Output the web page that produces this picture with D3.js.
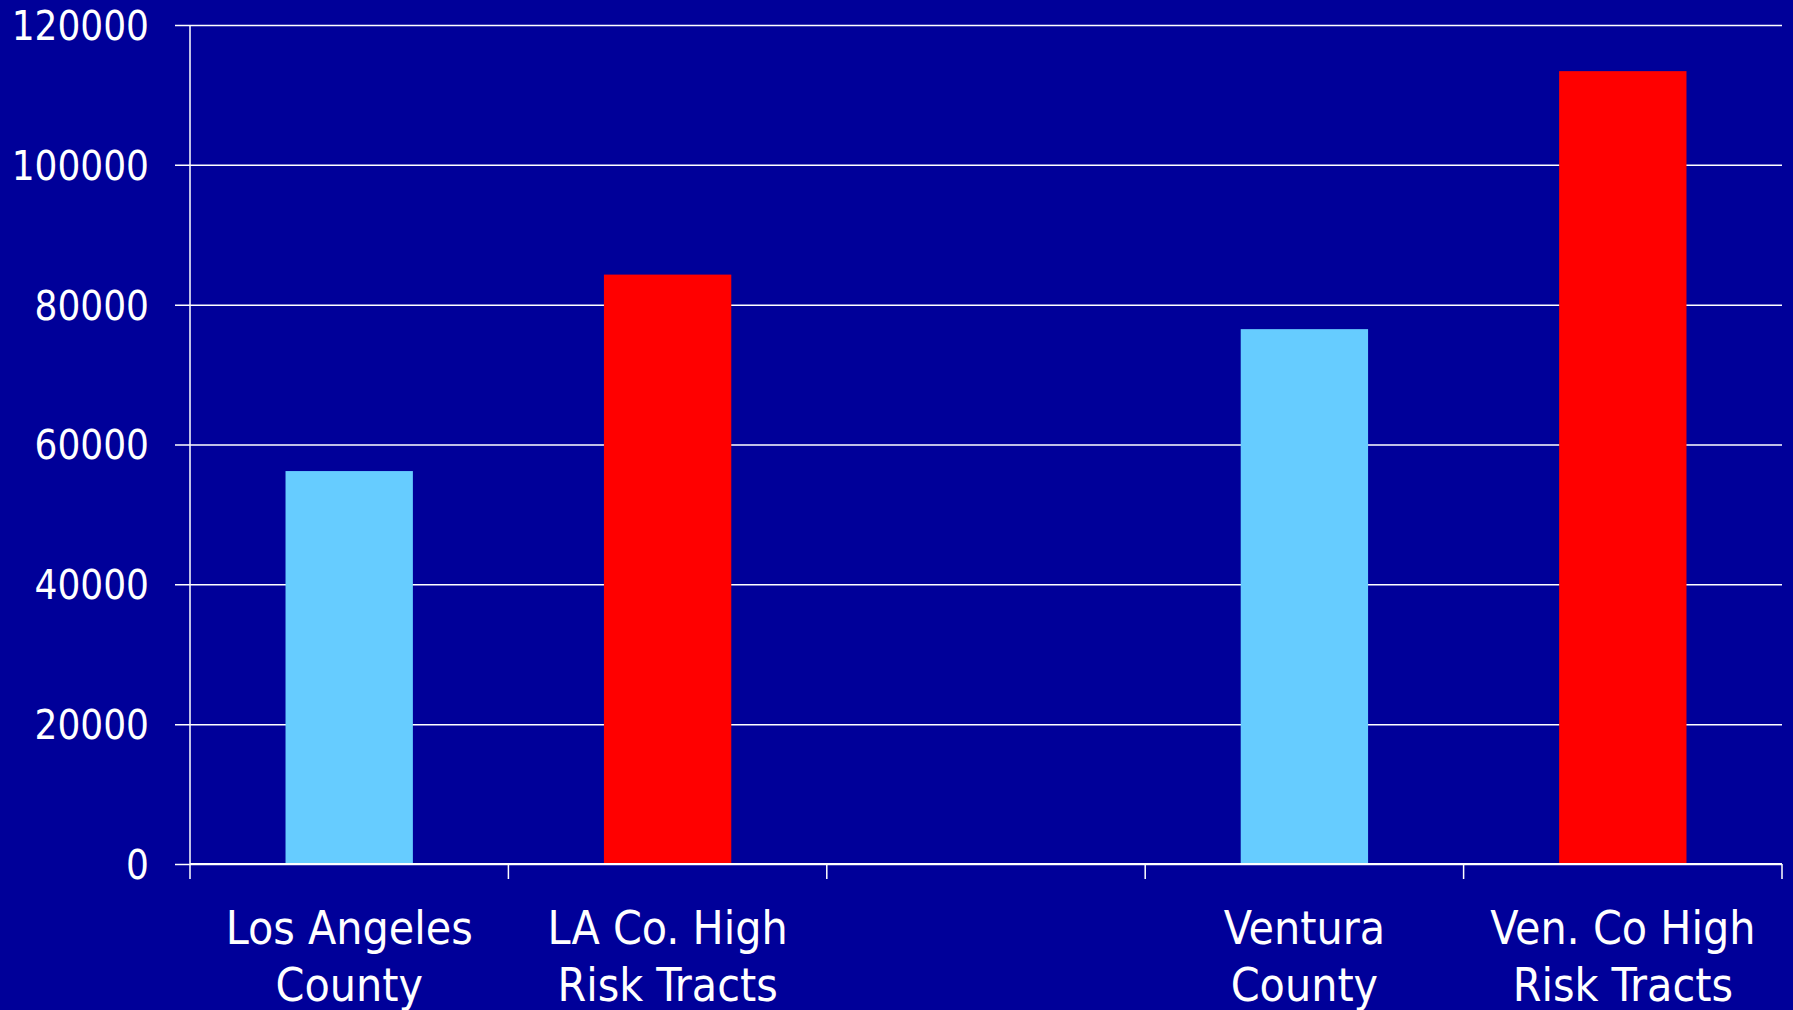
<!DOCTYPE html>
<html>
<head>
<meta charset="utf-8">
<script src="https://cdn.jsdelivr.net/npm/d3@7"></script>
<style>
  html, body { margin: 0; padding: 0; background: #000099; overflow: hidden; }
  text { font-family: "DejaVu Sans Condensed", "DejaVu Sans", sans-serif; fill: #ffffff; }
</style>
</head>
<body>
<div id="chart"></div>
<script>
// Categories (the middle slot is an empty gap in the original)
const categories = ["Los Angeles County", "LA Co. High Risk Tracts", "", "Ventura County", "Ven. Co High Risk Tracts"];
const values = [56200, 84300, null, 76500, 113400];
const barColors = ["#66CCFF", "#FF0000", null, "#66CCFF", "#FF0000"];
const yTicks = [0, 20000, 40000, 60000, 80000, 100000, 120000];

const W = 1793, H = 1010;
const margin = { top: 25, right: 11, bottom: 146, left: 190 };

const svg = d3.select("#chart")
    .append("svg")
    .attr("width", W)
    .attr("height", H);

svg.append("rect")
    .attr("width", W)
    .attr("height", H)
    .attr("fill", "#000099");

const x = d3.scaleBand()
    .domain(d3.range(categories.length))
    .range([margin.left, W - margin.right])
    .paddingInner(0.6)
    .paddingOuter(0.3);

const y = d3.scaleLinear()
    .domain([0, 120000])
    .range([H - margin.bottom, margin.top]);

// Gridlines + y tick labels
const yAxis = svg.append("g")
    .attr("transform", `translate(${margin.left},0)`)
    .call(d3.axisLeft(y)
        .tickValues(yTicks)
        .tickSize(-(W - margin.right - margin.left))
        .tickSizeOuter(0)
        .tickPadding(0)
        .tickFormat(d3.format("d")));
yAxis.select(".domain").remove();
yAxis.selectAll(".tick line")
    .attr("x1", -15)
    .attr("stroke", "#ffffff")
    .attr("stroke-width", 1.5);
yAxis.selectAll(".tick text")
    .attr("x", -41)
    .attr("dy", "0.36em")
    .attr("fill", "#ffffff")
    .style("font-size", "40px")
    .style("font-family", "'DejaVu Sans Condensed', 'DejaVu Sans', sans-serif");

// Bars
svg.append("g")
    .selectAll("rect")
    .data(values.map((v, i) => ({ v, i })).filter(d => d.v != null))
    .join("rect")
    .attr("x", d => x(d.i))
    .attr("y", d => y(d.v))
    .attr("width", x.bandwidth())
    .attr("height", d => y(0) - y(d.v))
    .attr("fill", d => barColors[d.i]);

// Vertical axis line
svg.append("line")
    .attr("x1", margin.left).attr("x2", margin.left)
    .attr("y1", y(120000)).attr("y2", y(0))
    .attr("stroke", "#ffffff")
    .attr("stroke-width", 1.5);

// X axis line with category boundary ticks
const edges = d3.range(categories.length + 1).map(i => margin.left + i * (W - margin.right - margin.left) / categories.length);
svg.append("line")
    .attr("x1", margin.left).attr("x2", W - margin.right)
    .attr("y1", y(0)).attr("y2", y(0))
    .attr("stroke", "#ffffff")
    .attr("stroke-width", 2);
svg.append("g")
    .selectAll("line")
    .data(edges)
    .join("line")
    .attr("x1", d => d).attr("x2", d => d)
    .attr("y1", y(0)).attr("y2", y(0) + 15)
    .attr("stroke", "#ffffff")
    .attr("stroke-width", 1.5);

// Category labels, split on two lines
const labelLines = [["Los Angeles", "County"], ["LA Co. High", "Risk Tracts"], [], ["Ventura", "County"], ["Ven. Co High", "Risk Tracts"]];
const labels = svg.append("g")
    .selectAll("text")
    .data(labelLines)
    .join("text")
    .attr("text-anchor", "middle")
    .attr("x", (d, i) => x(i) + x.bandwidth() / 2)
    .attr("y", 944)
    .style("font-size", "46px");
labels.selectAll("tspan")
    .data(d => d)
    .join("tspan")
    .attr("x", function () { return d3.select(this.parentNode).attr("x"); })
    .attr("dy", (d, j) => j === 0 ? 0 : 57)
    .text(d => d);
</script>
</body>
</html>
